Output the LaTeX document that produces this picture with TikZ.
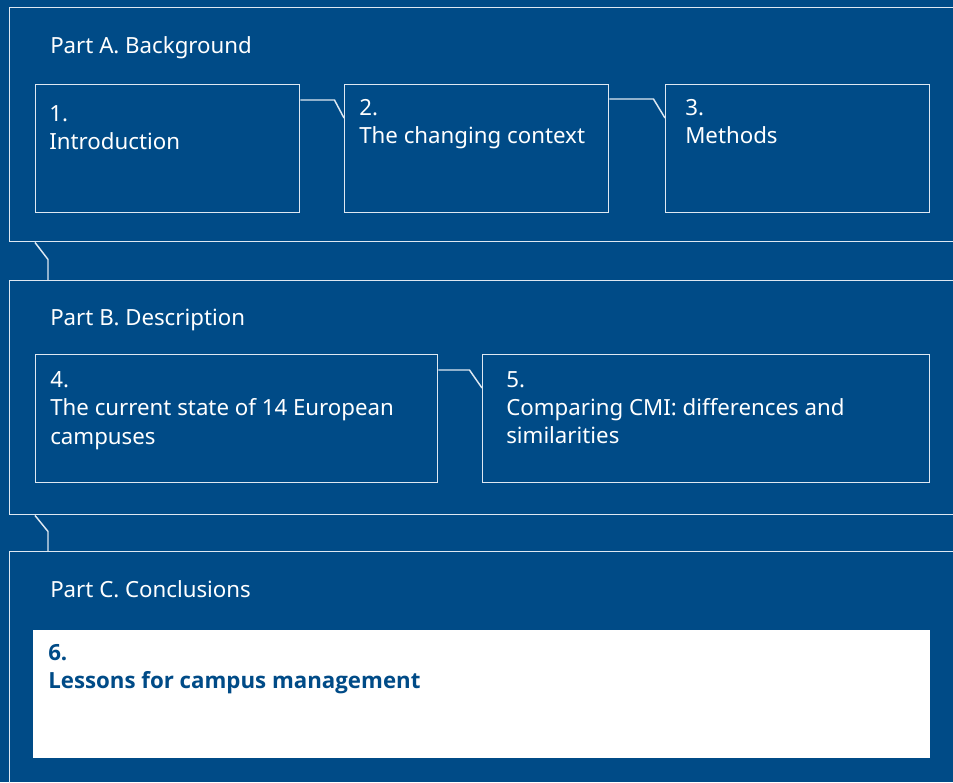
\documentclass[tikz,border=0pt]{standalone}
\usepackage{fontspec}
\setmainfont{Noto Sans}
\newfontfamily\chapbold{Open Sans}
\usetikzlibrary{positioning,calc}

\definecolor{bgblue}{RGB}{0,75,135}
\definecolor{edgeline}{RGB}{222,232,242}

\begin{document}
\begin{tikzpicture}[x=0.75pt, y=-0.75pt,
  part/.style={draw=edgeline, line width=1.1pt, anchor=north west, inner sep=0pt,
               minimum width=717pt, minimum height=175.5pt},
  chap/.style={draw=edgeline, line width=1.1pt, anchor=north west, inner sep=0pt,
               minimum height=96pt},
  txt/.style={anchor=north west, inner sep=0pt, align=left, text=white,
              font=\fontsize{16.7}{21.3}\selectfont},
  link/.style={draw=edgeline, line width=1.1pt}]
\fill[bgblue] (0,0) rectangle (953,782);
\clip (0,0) rectangle (953,782);

% part boxes
\node[part] (partA) at (9,7) {};
\node[part] (partB) at (9,280) {};
\node[part, minimum height=190pt] (partC) at (9,551) {};
\node[txt] (titleA) at ([shift={(41,29)}]partA.north west) {Part A. Background};
\node[txt] (titleB) at ([shift={(41,29)}]partB.north west) {Part B. Description};
\node[txt] (titleC) at ([shift={(41,29)}]partC.north west) {Part C. Conclusions};

% chapters
\node[chap, minimum width=198pt] (ch1) at (35,84) {};
\node[chap, minimum width=198pt] (ch2) at (344,84) {};
\node[chap, minimum width=198pt] (ch3) at (665,84) {};
\node[chap, minimum width=301.5pt] (ch4) at (35,354) {};
\node[chap, minimum width=335.25pt] (ch5) at (482,354) {};
\node[chap, draw=none, fill=white, minimum width=672.75pt] (ch6) at (32,629) {};

\node[txt] (t1) at ([shift={(14,21)}]ch1.north west) {1.\\Introduction};
\node[txt] (t2) at ([shift={(15,15)}]ch2.north west) {2.\\The changing context};
\node[txt] (t3) at ([shift={(20,15)}]ch3.north west) {3.\\Methods};
\node[txt] (t4) at ([shift={(15,17)}]ch4.north west) {4.\\The current state of 14 European\\campuses};
\node[txt] (t5) at ([shift={(24,17)}]ch5.north west) {5.\\Comparing CMI: differences and\\similarities};
\node[txt, text=bgblue, font=\chapbold\bfseries\fontsize{16.7}{21.3}\selectfont] (t6)
  at ([shift={(16,15)}]ch6.north west) {6.\\Lessons for campus management};

% links
\draw[link] ([shift={(0,16)}]ch1.north east) -- ++(34,0) -- ([shift={(0,34)}]ch2.north west);
\draw[link] ([shift={(0,15)}]ch2.north east) -- ++(44,0) -- ([shift={(0,34)}]ch3.north west);
\draw[link] ([shift={(0,16)}]ch4.north east) -- ++(31,0) -- ([shift={(0,34)}]ch5.north west);
\draw[link] ([shift={(26,0)}]partA.south west) -- ([shift={(39,17)}]partA.south west) -- ([shift={(39,0)}]partB.north west);
\draw[link] ([shift={(26,0)}]partB.south west) -- ([shift={(39,16)}]partB.south west) -- ([shift={(39,0)}]partC.north west);
\end{tikzpicture}
\end{document}
